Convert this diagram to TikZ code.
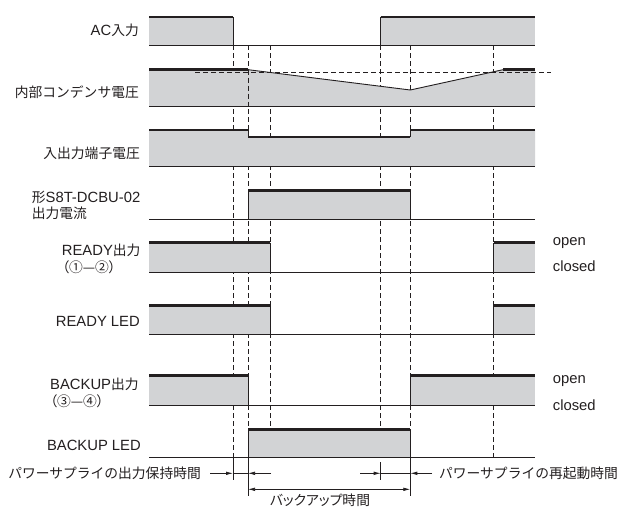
\documentclass[tikz,border=0pt]{standalone}
\usepackage{fontspec}
\setmainfont{Liberation Sans}
\newfontfamily\jpfont[Scale=0.93]{Noto Sans CJK JP}
\newfontfamily\jppfont[Scale=0.93,RawFeature=+palt]{Noto Sans CJK JP}
\newcommand\J[1]{{\jpfont #1}}
\newcommand\JP[1]{{\jppfont #1}}
\usetikzlibrary{arrows.meta}
\definecolor{sig}{RGB}{210,211,213}
\definecolor{ink}{RGB}{35,31,32}
\begin{document}
\begin{tikzpicture}[x=1pt,y=-1pt,
  lbl/.style={font=\fontsize{14.8}{17}\selectfont, inner sep=0pt, text=ink},
  base/.style={draw=ink, line width=0.9pt},
  hi/.style={draw=ink, line width=2.7pt},
  edge/.style={draw=ink, line width=0.9pt},
  guide/.style={draw=ink, line width=0.75pt, dash pattern=on 5pt off 3pt},
  dim/.style={draw=ink, line width=0.75pt},
  tip/.style={-{Latex[length=7pt,width=3.6pt]}},
  tips/.style={{Latex[length=7pt,width=3.6pt]}-{Latex[length=7pt,width=3.6pt]}}
]
\def\xL{149}\def\xR{535}
\def\ta{233}\def\tb{248}\def\tc{270.3}\def\td{380.7}\def\te{410.3}\def\tf{493.7}
\useasboundingbox (0,0) rectangle (619,508);
\fill[white] (0,0) rectangle (619,508);

% timing guides (behind the signal fills)
\foreach \t in {\ta,\tb,\tc,\td,\te,\tf} \draw[guide] (\t,45.3) -- (\t,457.3);

% ---- AC input
\fill[sig] (\xL,17) rectangle (\ta,45.3);
\fill[sig] (\td,17) rectangle (\xR,45.3);
\draw[hi] (\xL,17) -- (\ta,17);
\draw[hi] (\td,17) -- (\xR,17);
\draw[edge] (\ta,17) -- (\ta,45.3);
\draw[edge] (\td,17) -- (\td,45.3);
\draw[base] (\xL,45.3) -- (\xR,45.3);

% ---- capacitor voltage
\fill[sig] (\xL,69.7) -- (\tb,69.7) -- (\te,90) -- (503,69.7) -- (\xR,69.7) -- (\xR,106) -- (\xL,106) -- cycle;
\draw[guide] (\tb,69.7) -- (\tb,106);
\draw[guide] (195,72) -- (550.7,72);
\draw[hi] (\xL,69.7) -- (\tb,69.7);
\draw[edge] (\tb,69.7) -- (\te,90) -- (503,69.7);
\draw[hi] (503,69.7) -- (\xR,69.7);
\draw[base] (\xL,106) -- (\xR,106);

% ---- I/O terminal voltage
\fill[sig] (\xL,130) -- (\tb,130) -- (\tb,137) -- (\te,137) -- (\te,130) -- (\xR,130) -- (\xR,166.7) -- (\xL,166.7) -- cycle;
\draw[hi] (\xL,130) -- (\tb,130);
\draw[hi] (\tb,137) -- (\te,137);
\draw[hi] (\te,130) -- (\xR,130);
\draw[edge] (\tb,130) -- (\tb,137);
\draw[edge] (\te,130) -- (\te,137);
\draw[base] (\xL,166.7) -- (\xR,166.7);

% ---- S8T output current
\fill[sig] (\tb,190.7) rectangle (\te,219.3);
\draw[hi] (\tb,190.7) -- (\te,190.7);
\draw[edge] (\tb,190.7) -- (\tb,219.3);
\draw[edge] (\te,190.7) -- (\te,219.3);
\draw[base] (\xL,219.3) -- (\xR,219.3);

% ---- READY output
\fill[sig] (\xL,242.7) rectangle (\tc,272.3);
\fill[sig] (\tf,242.7) rectangle (\xR,272.3);
\draw[hi] (\xL,242.7) -- (\tc,242.7);
\draw[hi] (\tf,242.7) -- (\xR,242.7);
\draw[edge] (\tc,242.7) -- (\tc,272.3);
\draw[edge] (\tf,242.7) -- (\tf,272.3);
\draw[base] (\xL,272.3) -- (\xR,272.3);

% ---- READY LED
\fill[sig] (\xL,305.3) rectangle (\tc,334.7);
\fill[sig] (\tf,305.3) rectangle (\xR,334.7);
\draw[hi] (\xL,305.3) -- (\tc,305.3);
\draw[hi] (\tf,305.3) -- (\xR,305.3);
\draw[edge] (\tc,305.3) -- (\tc,334.7);
\draw[edge] (\tf,305.3) -- (\tf,334.7);
\draw[base] (\xL,334.7) -- (\xR,334.7);

% ---- BACKUP output
\fill[sig] (\xL,375.3) rectangle (\tb,405.3);
\fill[sig] (\te,375.3) rectangle (\xR,405.3);
\draw[hi] (\xL,375.3) -- (\tb,375.3);
\draw[hi] (\te,375.3) -- (\xR,375.3);
\draw[edge] (\tb,375.3) -- (\tb,405.3);
\draw[edge] (\te,375.3) -- (\te,405.3);
\draw[base] (\xL,405.3) -- (\xR,405.3);

% ---- BACKUP LED
\fill[sig] (\tb,429.3) rectangle (\te,457.3);
\draw[hi] (\tb,429.3) -- (\te,429.3);
\draw[edge] (\tb,429.3) -- (\tb,457.3);
\draw[edge] (\te,429.3) -- (\te,457.3);
\draw[base] (\xL,457.3) -- (\xR,457.3);

% ---- extension lines
\draw[dim] (\ta,457.3) -- (\ta,480);
\draw[dim] (\tb,457.3) -- (\tb,496);
\draw[dim] (\td,462) -- (\td,480);
\draw[dim] (\te,457.3) -- (\te,496);

% ---- labels
\node[lbl,anchor=base east] (ac) at (139,36) {AC\J{入力}};
\node[lbl,anchor=east] (cap) at (139,92) {\J{内部コンデンサ電圧}};
\node[lbl,anchor=east] (io) at (140,153) {\J{入出力端子電圧}};
\node[lbl,anchor=base west] (cur1) at (31.7,202.3) {\J{形}S8T-DCBU-02};
\node[lbl,anchor=west] (cur2) at (31.7,213.5) {\J{出力電流}};
\node[lbl,anchor=base west] (rdy1) at (61.7,255) {READY\J{出力}};
\node[lbl,anchor=west] (rdy2) at (62,267) {\JP{（①—②）}};
\node[lbl,anchor=base east] (rled) at (140,326) {READY LED};
\node[lbl,anchor=base west] (bko1) at (50,389.3) {BACKUP\J{出力}};
\node[lbl,anchor=west] (bko2) at (50,401) {\JP{（③—④）}};
\node[lbl,anchor=base east] (bled) at (141,450) {BACKUP LED};
\node[lbl,anchor=base west] (op1) at (552.7,245) {open};
\node[lbl,anchor=base west] (cl1) at (552.7,271.7) {closed};
\node[lbl,anchor=base west] (op2) at (552.7,383.3) {open};
\node[lbl,anchor=base west] (cl2) at (552.7,410) {closed};

% ---- dimensions
\coordinate (h1) at (\ta,473.3);
\coordinate (h2) at (\tb,473.3);
\coordinate (h3) at (271,473.3);
\node[lbl,anchor=east] (hold) at (201,473.3) {\J{パワーサプライの出力保持時間}};
\draw[dim,tip] ([xshift=9pt]hold.east) -- (h1);
\draw[dim] (h1) -- (h2);
\draw[dim,tip] (h3) -- (h2);

\coordinate (r0) at (360,473.3);
\coordinate (r1) at (\td,473.3);
\coordinate (r2) at (\te,473.3);
\node[lbl,anchor=west] (rst) at (439,473.3) {\J{パワーサプライの再起動時間}};
\draw[dim,tip] (r0) -- (r1);
\draw[dim] (r1) -- (r2);
\draw[dim,tip] ([xshift=-7pt]rst.west) -- (r2);

\coordinate (b1) at (\tb,489.3);
\coordinate (b2) at (\te,489.3);
\draw[dim,tips] (b1) -- (b2);
\node[lbl] (bk) at (320,500) {\JP{バックアップ時間}};
\end{tikzpicture}
\end{document}
